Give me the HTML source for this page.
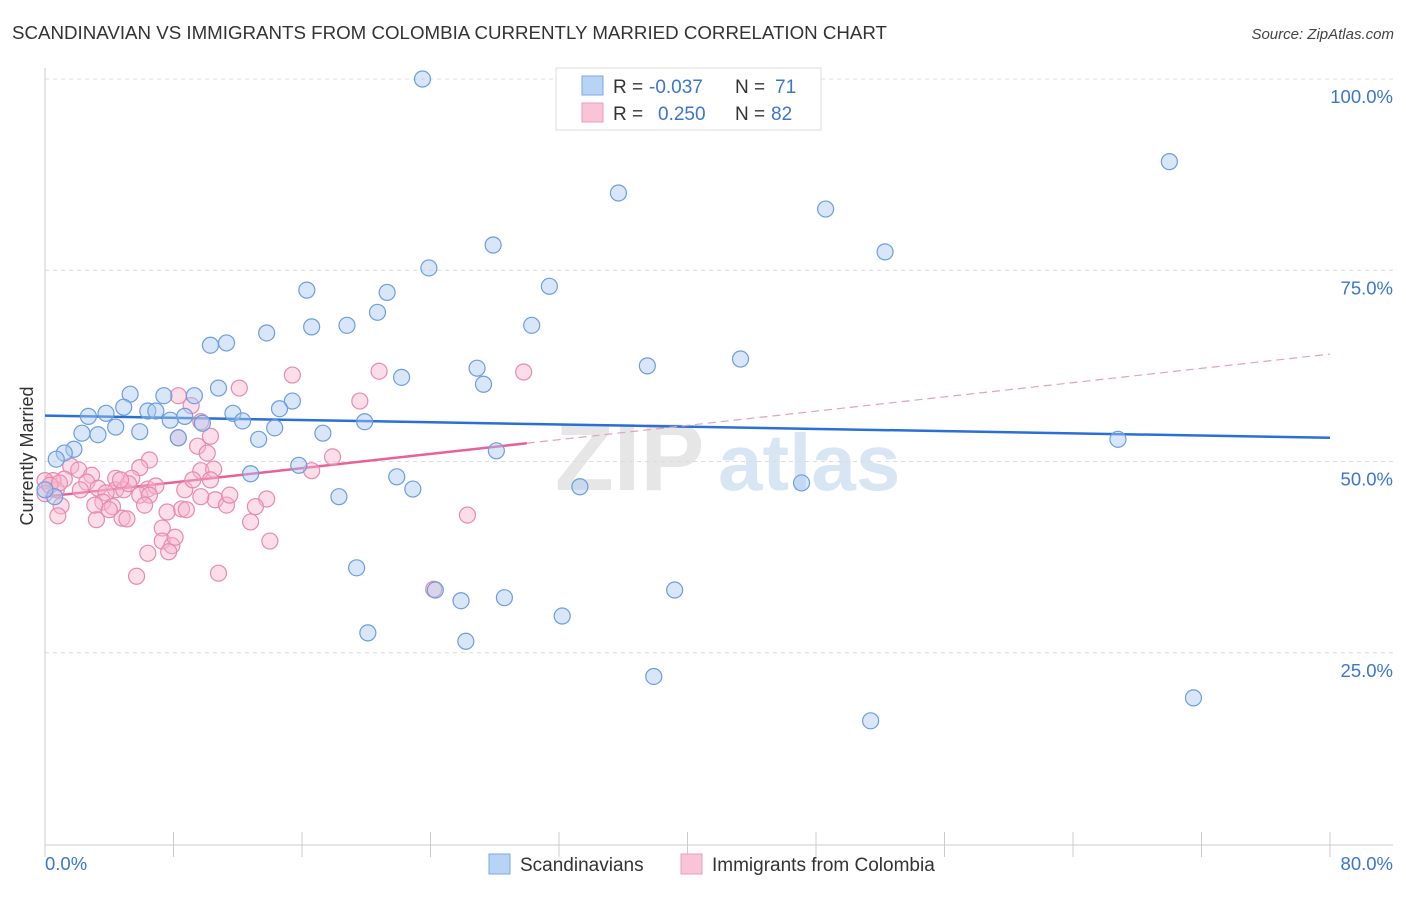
<!DOCTYPE html>
<html><head><meta charset="utf-8">
<style>
body{margin:0;background:#fff;font-family:"Liberation Sans",sans-serif;}
svg text{font-family:"Liberation Sans",sans-serif;}
</style></head>
<body>
<svg id="chart" width="1406" height="892" viewBox="0 0 1406 892" xmlns="http://www.w3.org/2000/svg">
<text x="12" y="39" font-size="18" fill="#333" textLength="875" lengthAdjust="spacingAndGlyphs">SCANDINAVIAN VS IMMIGRANTS FROM COLOMBIA CURRENTLY MARRIED CORRELATION CHART</text>
<text x="1394" y="39" font-size="15" fill="#444" text-anchor="end" font-style="italic">Source: ZipAtlas.com</text>
<g>
<text x="555" y="490" font-size="96" fill="#e6e6e6" font-family="Liberation Serif" font-weight="bold">ZIP</text>
<text x="718" y="490" font-size="80" fill="#d8e6f4" font-weight="bold">atlas</text>
</g>
<g id="grid"></g>
<g id="axes"></g>
<g id="lines"></g>
<g id="points"></g>
<text transform="translate(33,456) rotate(-90)" font-size="18" fill="#333" text-anchor="middle">Currently Married</text>
<g>
<rect x="556" y="68" width="265" height="62" fill="#fff" stroke="#ddd"/>
<rect x="582" y="76" width="21" height="19" fill="#b8d4f4" stroke="#7aaae6"/>
<rect x="582" y="103" width="21" height="19" fill="#f9c4d6" stroke="#ec9cba"/>
<text x="613" y="93" font-size="19" fill="#333">R =</text>
<text x="649" y="93" font-size="19" fill="#3a76d0">-0.037</text>
<text x="735" y="93" font-size="19" fill="#333">N =</text>
<text x="775" y="93" font-size="19" fill="#3a76d0">71</text>
<text x="613" y="120" font-size="19" fill="#333">R =</text>
<text x="658" y="120" font-size="19" fill="#3a76d0">0.250</text>
<text x="735" y="120" font-size="19" fill="#333">N =</text>
<text x="771" y="120" font-size="19" fill="#3a76d0">82</text>
</g>
<g>
<rect x="489" y="854" width="21" height="20" fill="#b8d4f4" stroke="#7aaae6"/>
<text x="520" y="871" font-size="19" fill="#333">Scandinavians</text>
<rect x="681" y="854" width="21" height="20" fill="#f9c4d6" stroke="#ec9cba"/>
<text x="712" y="871" font-size="19" fill="#333">Immigrants from Colombia</text>
</g>
</svg>
<script>
const yTicks=[25,50,75,100];
const yTickLabels=["25.0%","50.0%","75.0%","100.0%"];
const xTicks=[0,8,16,24,32,40,48,56,64,72,80];
const blueX=[23.5,70.0,35.7,48.6,27.9,52.3,23.9,31.4,16.3,21.3,20.7,18.8,16.6,30.3,13.8,11.3,10.3,37.5,43.3,26.9,22.2,27.3,5.3,7.4,10.8,9.3,15.4,4.9,3.8,14.6,6.4,6.9,11.7,2.7,7.8,8.7,12.3,19.9,9.8,4.4,5.9,2.3,3.3,14.3,17.3,13.3,8.3,66.8,1.8,1.2,0.7,28.1,15.8,12.8,21.9,22.9,33.3,47.1,18.3,0.6,0,19.4,24.3,39.2,25.9,28.6,32.2,20.1,26.2,37.9,51.4,71.5];
const blueY=[100,89.2,85.1,83.0,78.3,77.4,75.3,72.9,72.4,72.1,69.5,67.8,67.6,67.8,66.8,65.5,65.2,62.5,63.4,62.2,61.0,60.1,58.8,58.6,59.6,58.6,57.9,57.1,56.3,56.9,56.6,56.6,56.3,55.9,55.4,55.9,55.3,55.2,55.0,54.5,53.9,53.7,53.5,54.4,53.7,52.9,53.1,52.9,51.6,51.1,50.3,51.4,49.5,48.4,48.0,46.4,46.7,47.2,45.4,45.4,46.3,36.1,33.2,33.2,31.8,32.2,29.8,27.6,26.5,21.9,16.1,19.1];
const pinkX=[15.4,20.8,29.8,12.1,8.3,19.6,9.1,9.7,8.3,10.3,9.5,10.1,6.5,5.9,1.6,2.1,2.9,4.4,5.4,9.7,10.5,17.9,16.6,1.2,0.5,0,0.7,2.6,3.3,4.4,4.9,6.4,6.9,8.7,5.2,3.8,3.6,4.2,3.2,4.8,5.1,1.0,0.8,10.6,11.3,13.8,13.1,8.5,8.8,7.6,4.0,7.3,7.3,7.9,8.1,6.4,7.7,14.0,12.8,26.3,5.7,10.8,24.2,0,0.3,0.9,2.2,5.9,6.5,10.3,11.5,3.1,4.7,6.2,9.2,9.7];
const pinkY=[61.3,61.8,61.7,59.6,58.6,57.9,57.3,55.2,53.1,53.3,52.0,51.1,50.2,49.2,49.4,48.9,48.2,47.8,47.8,48.8,49.0,50.6,48.8,47.7,47.5,47.5,46.3,47.3,46.5,46.3,46.3,46.4,46.8,46.3,47.1,45.9,44.7,44.1,42.4,42.6,42.5,44.2,42.9,45.0,44.3,45.1,44.1,43.8,43.7,43.4,43.7,41.3,39.6,39.0,40.1,38.0,38.2,39.6,42.1,43.0,35.0,35.4,33.3,45.8,46.9,47.2,46.3,45.6,45.6,47.6,45.6,44.3,47.6,44.3,47.6,45.4];
const blueFit=[56.0,53.1]; // y at x=0 and x=80
const pinkFit=[45.4,0.233]; // intercept, slope
const pinkSolidEnd=30;
const NS="http://www.w3.org/2000/svg";
const xs=v=>45+v*(1285/80);
const ys=v=>844-v*7.65;
function mk(tag,attrs,parent){const e=document.createElementNS(NS,tag);for(const k in attrs)e.setAttribute(k,attrs[k]);parent.appendChild(e);return e;}
const grid=document.getElementById('grid'),axes=document.getElementById('axes'),lines=document.getElementById('lines'),pts=document.getElementById('points');
yTicks.forEach((t,i)=>{
 const l=mk('line',{x1:45,x2:1393,y1:ys(t),y2:ys(t),stroke:'#dcdcdc','stroke-dasharray':'4,4'},grid);
 
 
 const tx=mk('text',{x:1393,y:ys(t)+24,'font-size':18.5,fill:'#3a76d0','text-anchor':'end'},axes);
 tx.textContent=yTickLabels[i];
 
 
});
const ax=mk('line',{x1:45,x2:45,y1:68,y2:845,stroke:'#ccc'},axes);


const bx=mk('line',{x1:45,x2:1393,y1:845,y2:845,stroke:'#ccc'},axes);


xTicks.forEach(t=>{
 const tk=mk('line',{x1:xs(t),x2:xs(t),y1:832,y2:857,stroke:'#ccc'},axes);
 
 
});
const xl=mk('text',{x:45,y:870,'font-size':18.5,fill:'#3a76d0'},axes);xl.textContent='0.0%';


const xr=mk('text',{x:1393,y:870,'font-size':18.5,fill:'#3a76d0','text-anchor':'end'},axes);xr.textContent='80.0%';


function dot(x,y,fill,stroke,name){const c=mk('circle',{cx:xs(x),cy:ys(y),r:8,fill:fill,'fill-opacity':0.45,stroke:stroke,'stroke-width':1.2},pts);
 
 }
pinkX.forEach((x,i)=>dot(x,pinkY[i],'#f7b6cc','#e88aae','colombia-point'));
blueX.forEach((x,i)=>dot(x,blueY[i],'#aac8f0','#6a9ee0','scandinavian-point'));
const bl=mk('line',{x1:xs(0),y1:ys(blueFit[0]),x2:xs(80),y2:ys(blueFit[1]),stroke:'#2a6fd6','stroke-width':2.5},lines);


const pl=mk('line',{x1:xs(0),y1:ys(pinkFit[0]),x2:xs(pinkSolidEnd),y2:ys(pinkFit[0]+pinkFit[1]*pinkSolidEnd),stroke:'#e8609a','stroke-width':2.5},lines);


const pd=mk('line',{x1:xs(pinkSolidEnd),y1:ys(pinkFit[0]+pinkFit[1]*pinkSolidEnd),x2:xs(80),y2:ys(pinkFit[0]+pinkFit[1]*80),stroke:'#e8a0bc','stroke-width':1.2,'stroke-dasharray':'8,5'},lines);


</script>
</body></html>
